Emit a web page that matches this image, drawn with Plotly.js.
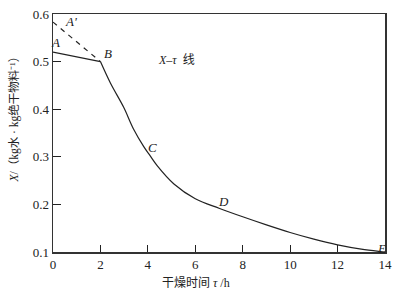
<!DOCTYPE html>
<html><head><meta charset="utf-8">
<script src="https://cdn.plot.ly/plotly-3.0.1.min.js"></script>
<style>html,body{margin:0;padding:0;background:#fff}#c{width:397px;height:292px}</style>
</head><body><div id="c"></div>
<script>
const curveTau = [0, 2, 2.42, 2.98, 3.4, 3.82, 4.1, 4.4, 5.1, 6.0, 7.0, 8.0, 9.0, 10.0, 11.0, 12.0, 13.0, 13.8, 14.0];
const curveX   = [0.52, 0.50, 0.455, 0.404, 0.358, 0.322, 0.302, 0.281, 0.243, 0.212, 0.192, 0.174, 0.157, 0.141, 0.127, 0.115, 0.106, 0.101, 0.10];
const dashTau = [0, 2];
const dashX = [0.583, 0.50];
const pointLabels = ["A'", "A", "B", "C", "D", "E"];
const labelTau = [0.75, 0.1, 2.3, 4.2, 7.2, 13.85];
const labelX = [0.585, 0.54, 0.518, 0.32, 0.206, 0.108];
const xTicks = [0, 2, 4, 6, 8, 10, 12, 14];
const yTicks = [0.1, 0.2, 0.3, 0.4, 0.5, 0.6];

const serif = "Liberation Serif, DejaVu Serif, serif";
const cjk = "Liberation Serif, Noto Sans CJK SC, serif";

const traces = [
  {x: curveTau.slice(0, 2), y: curveX.slice(0, 2), mode: 'lines', line: {color: '#222', width: 1.2}, hoverinfo: 'skip'},
  {x: curveTau.slice(1), y: curveX.slice(1), mode: 'lines', line: {color: '#222', width: 1.2, shape: 'spline', smoothing: 1}, hoverinfo: 'skip'},
  {x: dashTau, y: dashX, mode: 'lines', line: {color: '#222', width: 1.2, dash: '5px,5px'}, hoverinfo: 'skip'}
];

const L = 52.5, R = 12, T = 14, B = 40, W = 397, H = 292;
const pw = W - L - R, ph = H - T - B;

const annotations = pointLabels.map((t, i) => ({
  x: labelTau[i], y: labelX[i], xref: 'x', yref: 'y', text: '<i>' + t + '</i>', showarrow: false,
  font: {family: serif, size: 13, color: '#222'}
}));
annotations.push({x: 5.2, y: 0.504, xref: 'x', yref: 'y', text: '<i>X</i>–<i>τ</i>  线', showarrow: false,
  font: {family: cjk, size: 12, color: '#222'}});
annotations.push({x: (196 - L) / pw, y: (H - B - 283) / ph, xref: 'paper', yref: 'paper', xanchor: 'center', yanchor: 'middle',
  text: '干燥时间 <i>τ</i> /h', showarrow: false, font: {family: cjk, size: 12, color: '#222'}});
annotations.push({x: (13 - L) / pw, y: (H - B - 117) / ph, xref: 'paper', yref: 'paper', xanchor: 'center', yanchor: 'middle',
  textangle: -90, text: '<i>X</i>/（kg水 · kg绝干物料⁻¹）', showarrow: false, font: {family: cjk, size: 11.5, color: '#222'}});

const layout = {
  width: W, height: H,
  margin: {l: L, r: R, t: T, b: B, pad: 0},
  paper_bgcolor: '#fff', plot_bgcolor: '#fff',
  showlegend: false,
  font: {family: serif, size: 13, color: '#222'},
  xaxis: {
    range: [0, 14], tickvals: xTicks, ticktext: xTicks.map(String),
    ticks: 'inside', ticklen: 7, tickwidth: 1.2, tickcolor: '#222',
    showgrid: false, zeroline: false, showline: true, linecolor: '#333', linewidth: 1.5, mirror: true,
    tickfont: {family: serif, size: 13, color: '#222'}
  },
  yaxis: {
    range: [0.1, 0.6], tickvals: yTicks, ticktext: yTicks.map(v => v.toFixed(1)),
    ticks: 'inside', ticklen: 8, tickwidth: 1.2, tickcolor: '#222',
    showgrid: false, zeroline: false, showline: true, linecolor: '#333', linewidth: 1.5, mirror: true,
    tickfont: {family: serif, size: 13, color: '#222'}
  },
  annotations: annotations
};
Plotly.newPlot('c', traces, layout, {staticPlot: true, displayModeBar: false});
</script></body></html>
